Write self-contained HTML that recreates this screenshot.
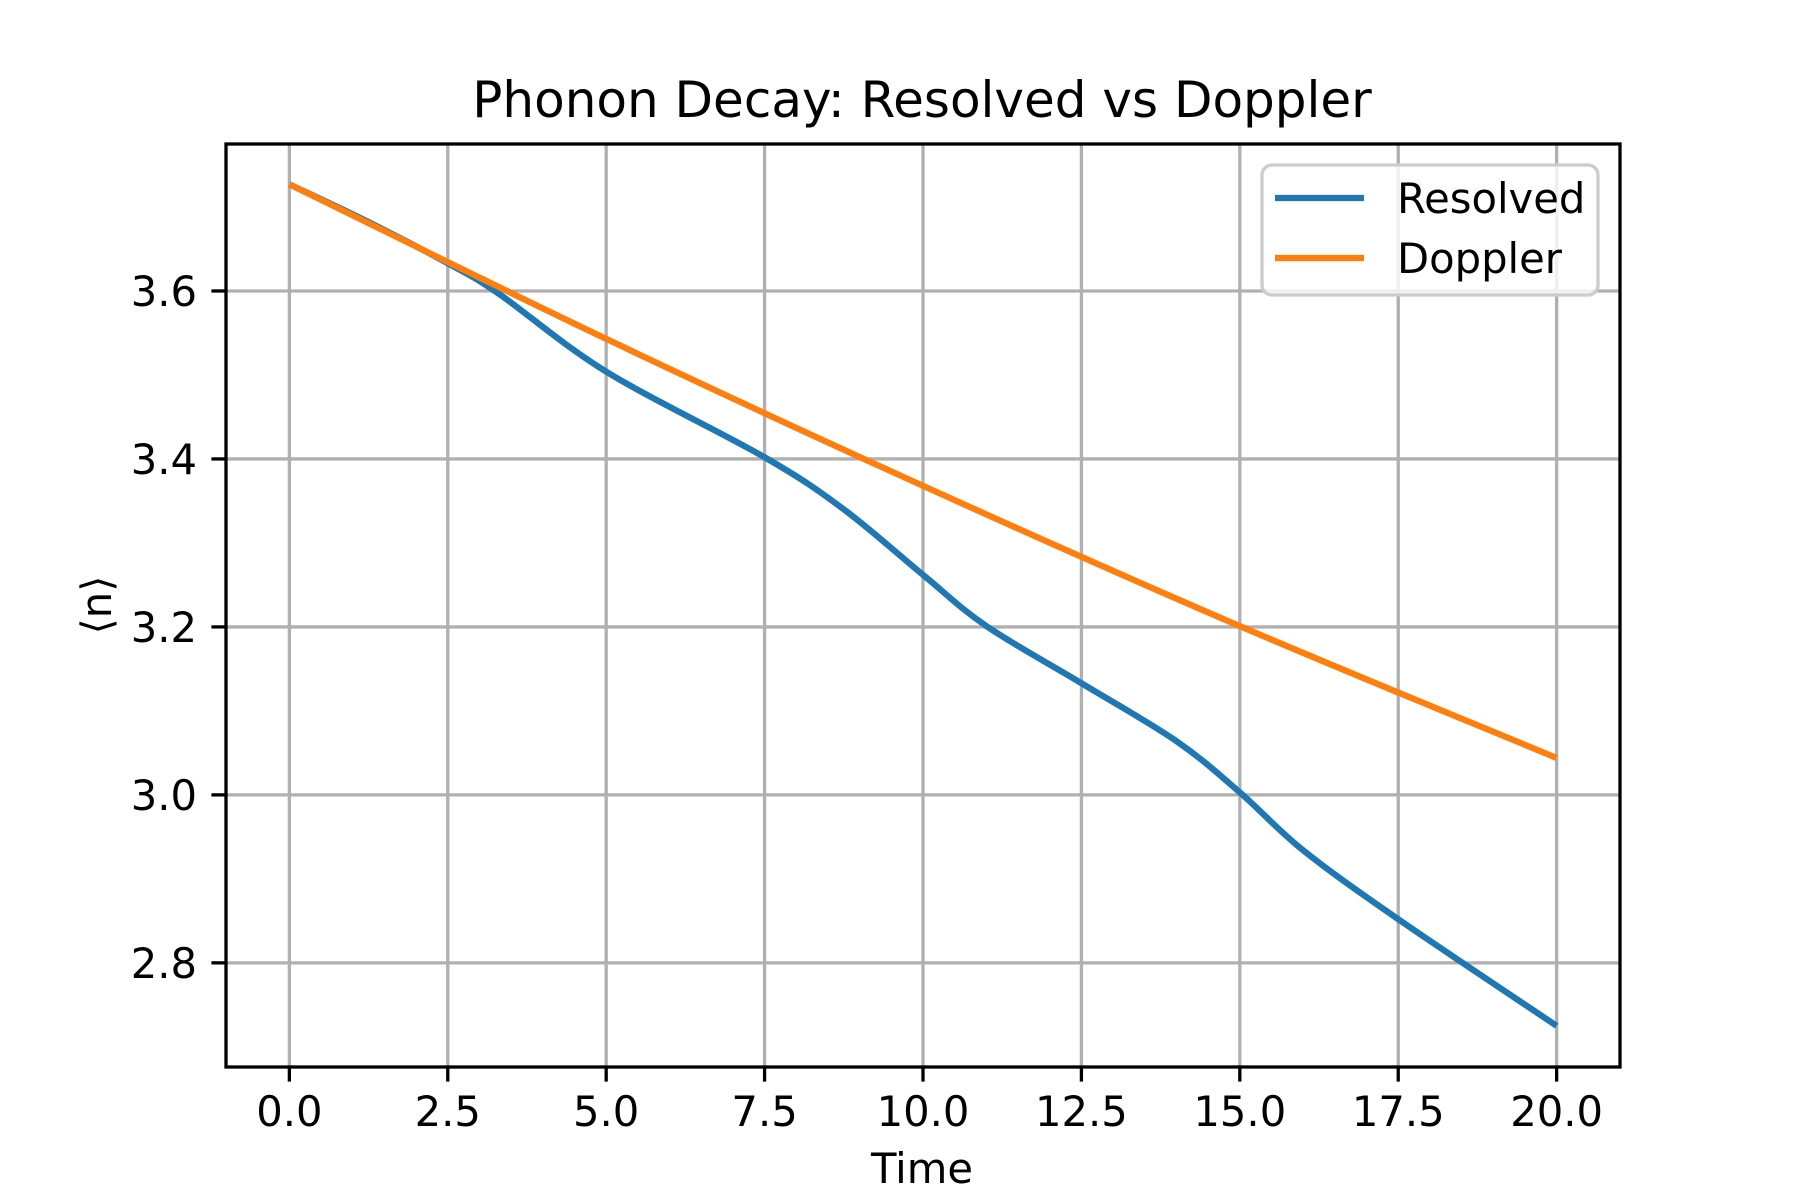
<!DOCTYPE html>
<html><head><meta charset="utf-8"><style>
html,body{margin:0;padding:0;background:#fff;}
svg{display:block;font-family:"DejaVu Sans","Liberation Sans",sans-serif;}
</style></head><body>
<svg id="chart" width="1800" height="1200" viewBox="0 0 1800 1200">
<rect x="0" y="0" width="1800" height="1200" fill="#fff"/>
<g id="grid"></g>
<g id="series"></g>
<rect x="226" y="144" width="1394" height="923" fill="none" stroke="#000" stroke-width="3.3"/>
<g id="ticks"></g>
<text x="922" y="117" font-size="50" text-anchor="middle">Phonon Decay: Resolved vs Doppler</text>
<text x="922" y="1183" font-size="41.7" text-anchor="middle">Time</text>
<text x="0" y="0" font-size="41.7" text-anchor="middle" transform="translate(111,605) rotate(-90)">⟨n⟩</text>
<g>
<rect x="1262" y="165" width="336" height="130" rx="10" fill="#fff" fill-opacity="0.8" stroke="#cccccc" stroke-width="3.3"/>
<line x1="1275" y1="198" x2="1364" y2="198" stroke="#1f77b4" stroke-width="6.25"/>
<text x="1397" y="213" font-size="41.7">Resolved</text>
<line x1="1275" y1="258" x2="1364" y2="258" stroke="#ff7f0e" stroke-width="6.25"/>
<text x="1397" y="273" font-size="41.7">Doppler</text>
</g>
</svg>
<script>
const xTicks = [0, 2.5, 5, 7.5, 10, 12.5, 15, 17.5, 20];
const xTickLabels = ["0.0","2.5","5.0","7.5","10.0","12.5","15.0","17.5","20.0"];
const yTicks = [2.8, 3.0, 3.2, 3.4, 3.6];
const yTickLabels = ["2.8","3.0","3.2","3.4","3.6"];
const resolvedT = [0, 1.25, 2.5, 3.3, 5, 7.5, 8.75, 10, 11, 12.5, 14, 15, 16, 17.5, 20];
const resolvedN = [3.727, 3.682, 3.633, 3.597, 3.504, 3.402, 3.34, 3.262, 3.201, 3.133, 3.064, 3.003, 2.934, 2.852, 2.725];
const dopplerT = [0, 5, 10, 15, 20];
const dopplerN = [3.727, 3.543, 3.368, 3.201, 3.044];

const NS = "http://www.w3.org/2000/svg";
const X0 = 226, X1 = 1620, Y0 = 1067, Y1 = 144;
const xMin = -1, xMax = 21, yMin = 2.676, yMax = 3.775;
function xs(v){ return X0 + (v - xMin) / (xMax - xMin) * (X1 - X0); }
function ys(v){ return Y0 - (v - yMin) / (yMax - yMin) * (Y0 - Y1); }
function mk(tag, attrs, parent){ const e = document.createElementNS(NS, tag); for (const k in attrs) e.setAttribute(k, attrs[k]); parent.appendChild(e); return e; }
const grid = document.getElementById('grid'), ticks = document.getElementById('ticks'), series = document.getElementById('series');

xTicks.forEach((t, i) => {
  const x = xs(t);
  const g = mk('line', {x1:x, x2:x, y1:Y1, y2:Y0, stroke:'#b0b0b0', 'stroke-width':3.3}, grid);
  
  
  const tk = mk('line', {x1:x, x2:x, y1:Y0, y2:Y0 + 14.6, stroke:'#000', 'stroke-width':3.3}, ticks);
  
  
  const lb = mk('text', {x:x, y:1126, 'font-size':41.7, 'text-anchor':'middle'}, ticks);
  lb.textContent = xTickLabels[i];
  
  
});
yTicks.forEach((t, i) => {
  const y = ys(t);
  const g = mk('line', {x1:X0, x2:X1, y1:y, y2:y, stroke:'#b0b0b0', 'stroke-width':3.3}, grid);
  
  
  const tk = mk('line', {x1:X0 - 14.6, x2:X0, y1:y, y2:y, stroke:'#000', 'stroke-width':3.3}, ticks);
  
  
  const lb = mk('text', {x:197, y:y + 15, 'font-size':41.7, 'text-anchor':'end'}, ticks);
  lb.textContent = yTickLabels[i];
  
  
});
function smoothPath(T, N){
  const p = T.map((t, i) => [xs(t), ys(N[i])]);
  let d = 'M' + p[0][0] + ',' + p[0][1];
  for (let i = 0; i < p.length - 1; i++) {
    const a = p[Math.max(0, i - 1)], b = p[i], c = p[i + 1], e = p[Math.min(p.length - 1, i + 2)];
    const c1 = [b[0] + (c[0] - a[0]) / 6, b[1] + (c[1] - a[1]) / 6];
    const c2 = [c[0] - (e[0] - b[0]) / 6, c[1] - (e[1] - b[1]) / 6];
    d += ' C' + c1[0] + ',' + c1[1] + ' ' + c2[0] + ',' + c2[1] + ' ' + c[0] + ',' + c[1];
  }
  return d;
}
const pr = mk('path', {d:smoothPath(resolvedT, resolvedN), fill:'none', stroke:'#1f77b4', 'stroke-width':6.25, 'stroke-linejoin':'round'}, series);


const pd = mk('path', {d:smoothPath(dopplerT, dopplerN), fill:'none', stroke:'#ff7f0e', 'stroke-width':6.25, 'stroke-linejoin':'round'}, series);


</script>
</body></html>
